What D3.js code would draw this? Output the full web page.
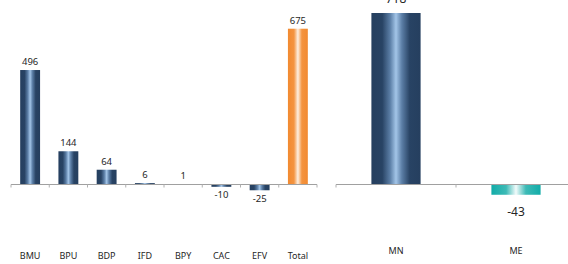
<!DOCTYPE html>
<html>
<head>
<meta charset="utf-8">
<script src="https://cdnjs.cloudflare.com/ajax/libs/d3/7.8.5/d3.min.js"></script>
<style>
body { margin: 0; background: #fff; }
text { font-family: "Noto Sans", sans-serif; fill: #262626; }
</style>
</head>
<body>
<div class="container"></div>
<script>
// left chart data
const leftCats = ["BMU", "BPU", "BDP", "IFD", "BPY", "CAC", "EFV", "Total"];
const leftVals = [496, 144, 64, 6, 1, -10, -25, 675];
// right chart data
const rightCats = ["MN", "ME"];
const rightVals = [718, -43];

const width = 568;
const height = 264;

const svg = d3.select("div.container")
    .append("svg")
    .attr("width", width)
    .attr("height", height);

const defs = svg.append("defs");

function grad(id, stops) {
    const g = defs.append("linearGradient")
        .attr("id", id)
        .attr("x1", "0%").attr("x2", "100%")
        .attr("y1", "0%").attr("y2", "0%");
    g.selectAll("stop")
        .data(stops)
        .enter()
        .append("stop")
        .attr("offset", d => d[0])
        .attr("stop-color", d => d[1]);
}

grad("navy", [["0%", "#253f5f"], ["22%", "#284364"], ["38%", "#5b7ea6"], ["50%", "#a3c5e8"], ["62%", "#5b7ea6"], ["78%", "#284364"], ["100%", "#253f5f"]]);
grad("orange", [["0%", "#f28a30"], ["30%", "#f49440"], ["50%", "#fdf0e2"], ["70%", "#f49440"], ["100%", "#f28a30"]]);
grad("teal", [["0%", "#12aca8"], ["30%", "#3dbab6"], ["50%", "#f2fbfb"], ["70%", "#3dbab6"], ["100%", "#12aca8"]]);

function drawChart(cats, vals, opt) {
    const x = d3.scaleBand()
        .domain(cats)
        .range(opt.xRange)
        .paddingInner(opt.pad)
        .paddingOuter(opt.pad / 2);

    const y = d3.scaleLinear()
        .domain([0, opt.maxV])
        .range([opt.y0, opt.yTop]);

    const g = svg.append("g");
    const data = cats.map((c, i) => ({cat: c, v: vals[i], i: i}));

    g.selectAll("rect")
        .data(data)
        .enter()
        .append("rect")
        .attr("x", d => x(d.cat))
        .attr("width", x.bandwidth())
        .attr("y", d => Math.min(y(d.v), y(0)))
        .attr("height", d => Math.abs(y(d.v) - y(0)))
        .attr("fill", d => "url(#" + opt.fill(d) + ")");

    // axis line + boundary ticks
    const step = x.step();
    g.append("line")
        .attr("x1", opt.xRange[0]).attr("x2", opt.xRange[1])
        .attr("y1", y(0)).attr("y2", y(0))
        .attr("stroke", "#a0a0a0").attr("stroke-width", 1);

    const bounds = d3.range(cats.length + 1).map(i => opt.xRange[0] + i * step);
    g.selectAll("line.tick")
        .data(bounds)
        .enter()
        .append("line")
        .attr("class", "tick")
        .attr("x1", d => d).attr("x2", d => d)
        .attr("y1", y(0)).attr("y2", y(0) + 3)
        .attr("stroke", "#b0b0b0");

    g.selectAll("text.val")
        .data(data)
        .enter()
        .append("text")
        .attr("class", "val")
        .attr("x", d => x(d.cat) + x.bandwidth() / 2)
        .attr("y", d => d.v >= 0 ? y(d.v) - opt.labGap : y(d.v) + opt.negGap + opt.valSize * 0.7)
        .attr("text-anchor", "middle")
        .style("font-size", opt.valSize + "px")
        .text(d => d.v);

    g.selectAll("text.cat")
        .data(data)
        .enter()
        .append("text")
        .attr("class", "cat")
        .attr("x", d => x(d.cat) + x.bandwidth() / 2)
        .attr("y", opt.catY)
        .attr("text-anchor", "middle")
        .style("font-size", "9px")
        .text(d => d.cat);
}

drawChart(leftCats, leftVals, {
    xRange: [11, 317],
    pad: 0.48,
    maxV: 700,
    y0: 184.5,
    yTop: 184.5 - 700 * 0.2308,
    fill: d => d.cat === "Total" ? "orange" : "navy",
    labGap: 5,
    negGap: 5,
    valSize: 9.5,
    catY: 259
});

drawChart(rightCats, rightVals, {
    xRange: [336, 576],
    pad: 0.59,
    maxV: 718,
    y0: 184.5,
    yTop: 13,
    fill: d => d.v < 0 ? "teal" : "navy",
    labGap: 10,
    negGap: 13,
    valSize: 12,
    catY: 254
});
</script>
</body>
</html>
